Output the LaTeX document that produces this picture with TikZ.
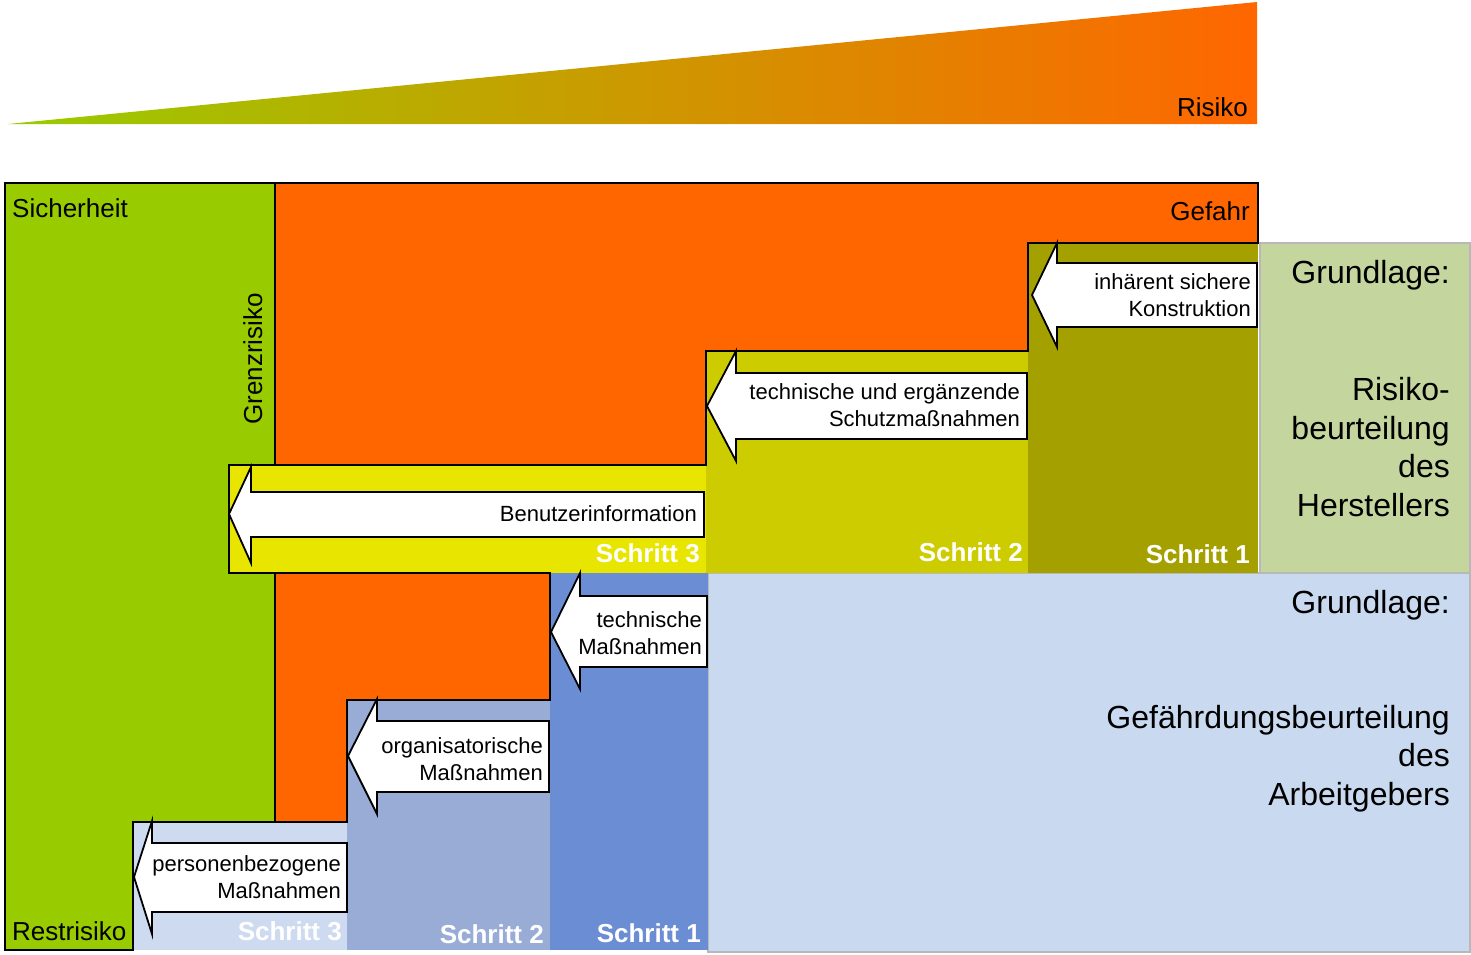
\documentclass[tikz,border=0pt]{standalone}
\usepackage{fontspec}
\setmainfont{Liberation Sans}
\newcommand{\fsarr}{\fontsize{22}{27}\selectfont}
\newcommand{\fslab}{\fontsize{26}{31}\selectfont}
\newcommand{\fsbig}{\fontsize{32}{38.5}\selectfont}

\definecolor{sicher}{HTML}{99CC00}
\definecolor{gefahr}{HTML}{FF6600}
\definecolor{keilmitte}{HTML}{D0A400}
\definecolor{hschritta}{HTML}{A3A000}
\definecolor{hschrittb}{HTML}{CCCC00}
\definecolor{hschrittc}{HTML}{E8E600}
\definecolor{aschritta}{HTML}{6A8DD3}
\definecolor{aschrittb}{HTML}{98ACD6}
\definecolor{aschrittc}{HTML}{CDDAF0}
\definecolor{hgrund}{HTML}{C4D59D}
\definecolor{agrund}{HTML}{C9D9EF}

\begin{document}
\begin{tikzpicture}[x=1pt,y=-1pt,
    outline/.style={draw=black,line width=2pt},
    grundbox/.style={draw=black!28,line width=1.5pt},
    massarrow/.style={fill=white,draw=black,line width=1.8pt},
    arrtext/.style={anchor=east,align=right,inner sep=0pt,font=\fsarr},
    schritt/.style={anchor=base east,inner sep=0pt,font=\fslab\bfseries,text=white},
    bereich/.style={inner sep=0pt,font=\fslab},
    grund/.style={align=right,inner sep=0pt,font=\fsbig}]
   \useasboundingbox (0,0) rectangle (1471,954);
   % Risiko-Keil
   \shade[left color=sicher,middle color=keilmitte,right color=gefahr]
      (8,124) -- (1257,2) -- (1257,124) -- cycle;
   \node (risiko) [bereich,anchor=base east] at (1248,116) {Risiko};
   % Grundlagen
   \filldraw[grundbox,fill=hgrund] (1260,243) rectangle (1470,573);
   \filldraw[grundbox,fill=agrund] (708,573) rectangle (1470,952);
   % Schritte Hersteller
   \fill[hschritta] (1028,243) rectangle (1258,573);
   \fill[hschrittb] (706,351) rectangle (1028,573);
   % Schritte Arbeitgeber
   \fill[aschritta] (550,573) rectangle (708,950);
   \fill[aschrittb] (347,700) rectangle (550,950);
   \fill[aschrittc] (133,822) rectangle (347,950);
   % Sicherheit / Gefahr
   \filldraw[outline,fill=sicher] (5,183) -- (275,183) -- (275,822) -- (133,822)
      -- (133,950) -- (5,950) -- cycle;
   \filldraw[outline,fill=gefahr] (275,183) -- (1258,183) -- (1258,243) -- (1028,243)
      -- (1028,351) -- (706,351) -- (706,465) -- (275,465) -- cycle;
   \fill[hschrittc] (229,465) rectangle (706,573);
   \draw[outline] (706,465) -- (229,465) -- (229,573) -- (275,573);
   \filldraw[outline,fill=gefahr] (275,573) -- (550,573) -- (550,700) -- (347,700)
      -- (347,822) -- (275,822) -- cycle;
   % Pfeile
   \filldraw[massarrow] (1032,295) -- (1057,243) -- (1057,263) -- (1257,263)
      -- (1257,327) -- (1057,327) -- (1057,347) -- cycle;
   \filldraw[massarrow] (707,406) -- (736,351) -- (736,373) -- (1027,373)
      -- (1027,439) -- (736,439) -- (736,461) -- cycle;
   \filldraw[massarrow] (229,514) -- (251,467) -- (251,492) -- (704,492)
      -- (704,537) -- (251,537) -- (251,563) -- cycle;
   \filldraw[massarrow] (551,632) -- (580,573) -- (580,596) -- (707,596)
      -- (707,667) -- (580,667) -- (580,689) -- cycle;
   \filldraw[massarrow] (348,756) -- (377,699) -- (377,721) -- (549,721)
      -- (549,792) -- (377,792) -- (377,814) -- cycle;
   \filldraw[massarrow] (134,877) -- (152,821) -- (152,843) -- (347,843)
      -- (347,912) -- (152,912) -- (152,934) -- cycle;
   \node (konstruktion) [arrtext] at (1251,298) {\strut inhärent sichere\\\strut Konstruktion};
   \node (schutz) [arrtext] at (1020,408) {\strut technische und ergänzende\\\strut Schutzmaßnahmen};
   \node (benutzer) [arrtext] at (697,516) {\strut Benutzerinformation};
   \node (technisch) [arrtext] at (702,636) {\strut technische\\\strut Maßnahmen};
   \node (organisat) [arrtext] at (543,761.5) {\strut organisatorische\\\strut Maßnahmen};
   \node (person) [arrtext] at (341,879.5) {\strut personenbezogene\\\strut Maßnahmen};
   % Beschriftungen
   \node (sicherheit) [bereich,anchor=base west] at (12,217) {Sicherheit};
   \node (gefahr) [bereich,anchor=base east] at (1250,220) {Gefahr};
   \node (restrisiko) [bereich,anchor=base west] at (12,940) {Restrisiko};
   \node (grenzrisiko) [bereich,anchor=base,rotate=90] at (262,359) {Grenzrisiko};
   \node (hs3) [schritt] at (700,562) {Schritt 3};
   \node (hs2) [schritt] at (1023,561) {Schritt 2};
   \node (hs1) [schritt] at (1250,563) {Schritt 1};
   \node (as3) [schritt] at (342,940) {Schritt 3};
   \node (as2) [schritt] at (544,943) {Schritt 2};
   \node (as1) [schritt] at (701,942) {Schritt 1};
   \node (hgrundlage) [grund,anchor=base east] at (1450,283) {Grundlage:};
   \node (hersteller) [grund,anchor=east] at (1450,450.8)
      {\strut Risiko-\\\strut beurteilung\\\strut des\\\strut Herstellers};
   \node (agrundlage) [grund,anchor=base east] at (1450,613) {Grundlage:};
   \node (arbeitgeber) [grund,anchor=east] at (1450,758.8)
      {\strut Gefährdungsbeurteilung\\\strut des\\\strut Arbeitgebers};
\end{tikzpicture}
\end{document}
